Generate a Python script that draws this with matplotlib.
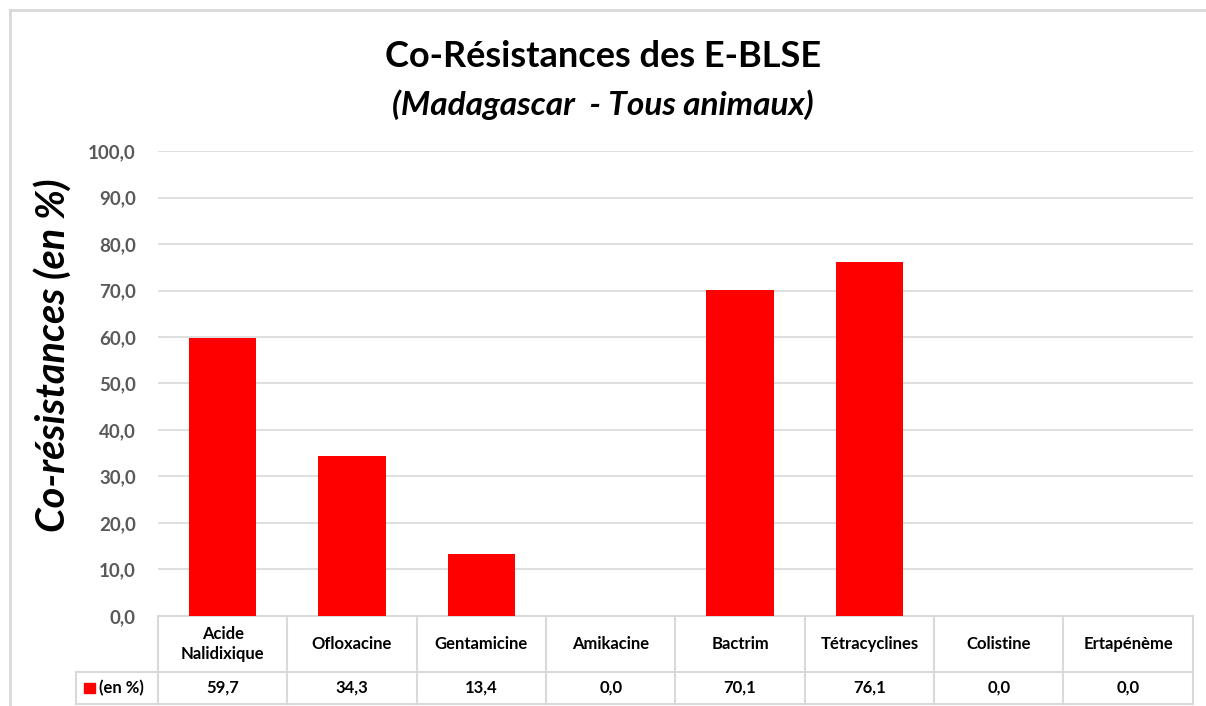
"""
Co-résistances des E-BLSE (Madagascar) : histogramme avec table de données
façon Excel sous l'axe des abscisses.
"""

import matplotlib.pyplot as plt
from matplotlib.lines import Line2D
from matplotlib.patches import Rectangle

# -----------------------------------------------------------
# Données
# -----------------------------------------------------------
antibiotiques = ["Acide\nNalidixique", "Ofloxacine", "Gentamicine", "Amikacine",
                 "Bactrim", "Tétracyclines", "Colistine", "Ertapénème"]
resistances = [59.7, 34.3, 13.4, 0.0, 70.1, 76.1, 0.0, 0.0]
serie = "(en %)"
yticks = list(range(0, 101, 10))

# -----------------------------------------------------------
# Style
# -----------------------------------------------------------
plt.rcParams['font.family'] = ['Lato', 'DejaVu Sans']
rouge = '#FF0000'
gris_ligne = '#D9D9D9'
gris_texte = '#595959'

def fr(v):
    return f"{v:.1f}".replace('.', ',')

fig = plt.figure(figsize=(12.06, 7.06), dpi=100)
ax = fig.add_axes([0.131, 0.1275, 0.858, 0.6586])

n = len(antibiotiques)
x = list(range(n))
ax.bar(x, resistances, width=0.52, color=rouge, zorder=3)

ax.set_xlim(-0.5, n - 0.5)
ax.set_ylim(0, 100)
ax.set_yticks(yticks)
ax.set_yticklabels([fr(t) for t in yticks], color=gris_texte,
                   fontsize=13.5, fontweight='bold')
ax.tick_params(axis='y', length=0, pad=16)
ax.set_xticks([])
ax.grid(axis='y', color=gris_ligne, linewidth=1.2, zorder=0)
for s in ax.spines.values():
    s.set_visible(False)

ax.set_ylabel("Co-résistances (en %)", fontsize=28.5, fontweight='bold',
              style='italic')
ax.yaxis.set_label_coords(-0.083, 0.56)

# -----------------------------------------------------------
# Table de données sous l'axe
# -----------------------------------------------------------
h_ax = 465.0                    # hauteur de l'axe en pixels
y_hdr = -56 / h_ax              # bas de la ligne des catégories
y_bot = -88 / h_ax              # bas de la ligne des valeurs
x_leg = -82 / (1035.0 / n)      # bord gauche de la cellule légende (unités données)

def trait(xs, ys):
    ax.add_line(Line2D(xs, ys, transform=ax.get_xaxis_transform(),
                       color=gris_ligne, linewidth=1.5, clip_on=False))

trait([-0.5, n - 0.5], [0, 0])
trait([-0.5 + x_leg, n - 0.5], [y_hdr, y_hdr])
trait([-0.5 + x_leg, n - 0.5], [y_bot, y_bot])
trait([-0.5 + x_leg, -0.5 + x_leg], [y_hdr, y_bot])
for i in range(n + 1):
    trait([i - 0.5, i - 0.5], [0, y_bot])

for xi, nom, val in zip(x, antibiotiques, resistances):
    ax.text(xi, y_hdr / 2, nom, transform=ax.get_xaxis_transform(),
            ha='center', va='center', fontsize=12, fontweight='bold',
            linespacing=1.3)
    ax.text(xi, (y_hdr + y_bot) / 2, fr(val), transform=ax.get_xaxis_transform(),
            ha='center', va='center', fontsize=12, fontweight='bold')

# légende dans la table
ax.add_patch(Rectangle((-0.5 + x_leg + 0.065, (y_hdr + y_bot) / 2 - 0.011),
                       0.08, 0.022, transform=ax.get_xaxis_transform(),
                       color=rouge, clip_on=False))
ax.text(-0.5 + x_leg + 0.18, (y_hdr + y_bot) / 2, serie,
        transform=ax.get_xaxis_transform(), ha='left', va='center',
        fontsize=12, fontweight='bold')

# -----------------------------------------------------------
# Titres et cadre
# -----------------------------------------------------------
fig.text(0.5, 0.92, "Co-Résistances des E-BLSE", ha='center', va='center',
         fontsize=26, fontweight='bold')
fig.text(0.5, 0.852, "(Madagascar  - Tous animaux)", ha='center', va='center',
         fontsize=24, fontweight='bold', style='italic')

fig.add_artist(Line2D([10 / 1206, 10 / 1206], [0, 1 - 10 / 706],
                      color=gris_ligne, linewidth=2))
fig.add_artist(Line2D([10 / 1206, 1], [1 - 10 / 706, 1 - 10 / 706],
                      color=gris_ligne, linewidth=2))

fig.savefig('out.png', dpi=100)
